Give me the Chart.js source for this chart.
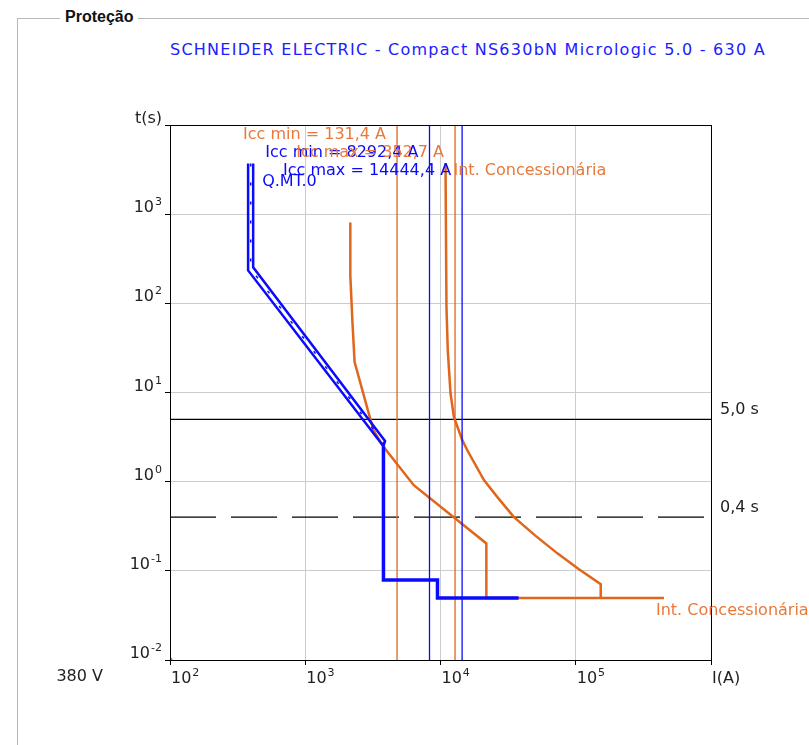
<!DOCTYPE html>
<html>
<head>
<meta charset="utf-8">
<script src="https://cdn.jsdelivr.net/npm/chart.js@4.4.0/dist/chart.umd.min.js"></script>
<style>
  body { margin: 0; background: #fff; }
  #wrap { position: relative; width: 809px; height: 745px; overflow: hidden; }
  .box-left { position: absolute; left: 17px; top: 18px; height: 740px; border-left: 1px solid #b8b8b8; }
  .box-top { position: absolute; left: 17px; top: 18px; width: 800px; border-top: 1px solid #b8b8b8; }
  .legend { position: absolute; left: 60px; top: 8px; padding: 0 5px; background: #fff;
            font: bold 16px "Liberation Sans", Arial, sans-serif; color: #111; }
  .device { position: absolute; left: 170px; top: 40px; color: #2020ff; letter-spacing: 1.25px;
            font: 16px "DejaVu Sans", sans-serif; white-space: nowrap; }
  #chart { position: absolute; left: 0; top: 0; }
</style>
</head>
<body>
<div id="wrap">
  <div class="box-left"></div>
  <div class="box-top"></div>
  <div class="legend">Proteção</div>
  <div class="device">SCHNEIDER ELECTRIC - Compact NS630bN Micrologic 5.0 - 630 A</div>
  <canvas id="chart" width="809" height="745"></canvas>
</div>
<script>
// Eixos (corrente em A, tempo em s)
const xTicks = [100, 1000, 10000, 100000, 1000000];
const xTickLabels = ['10^2', '10^3', '10^4', '10^5', 'I(A)'];
const yTicks = [0.01, 0.1, 1, 10, 100, 1000, 10000];
const yTickLabels = ['10^-2', '10^-1', '10^0', '10^1', '10^2', '10^3', 't(s)'];

// Q.MT.0 - faixa da curva (linha inferior / superior / meio)
const qmtLowI = [378, 378, 3786];
const qmtLowT = [3690, 234, 2.5];
const qmtHighI = [412, 412, 3890, 3786];
const qmtHighT = [3690, 254, 2.85, 2.5];
const qmtMidI = [395, 395, 3840];
const qmtMidT = [3690, 244, 2.67];
// Q.MT.0 - degraus (curto / instantâneo)
const qmtStepI = [3786, 3786, 9500, 9500, 37800];
const qmtStepT = [2.5, 0.0788, 0.0788, 0.0496, 0.0496];

// Int. Concessionária - curva 1
const concAI = [2154, 2154, 2230, 2317, 3192, 3802, 6342, 21830, 21830, 448700];
const concAT = [805, 205, 64, 22, 3.77, 2.45, 0.914, 0.203, 0.0496, 0.0496];
// Int. Concessionária - curva 2
const concBI = [10890, 11070, 11320, 11860, 12560, 14490, 15780, 20950, 26800, 34920, 50000, 73150, 105000, 153000, 153000];
const concBT = [3690, 90, 29.7, 9.8, 5.32, 2.92, 2.25, 1.04, 0.65, 0.40, 0.25, 0.157, 0.105, 0.071, 0.0496];

// Correntes de curto-circuito
const iccBlue = [8292.4, 14444.4];
const iccOrange = [4772, 12810];

// Tempos de referência
const tSolid = 5.0;
const tDashed = 0.4;

const BLUE = '#0a0aff';
const ORANGE = '#e0661c';
const ORANGE_TXT = '#e8793a';
const FONT = "'DejaVu Sans', sans-serif";

const pts = (xs, ys) => xs.map((v, i) => ({ x: v, y: ys[i] }));
const vLine = v => [{ x: v, y: yTicks[0] }, { x: v, y: yTicks[yTicks.length - 1] }];
const hLine = t => [{ x: xTicks[0], y: t }, { x: xTicks[xTicks.length - 1], y: t }];

function lineSet(data, color, width, dash) {
    return {
        data: data,
        showLine: true,
        borderColor: color,
        backgroundColor: color,
        borderWidth: width,
        borderDash: dash || [],
        pointRadius: 0,
        fill: false,
        tension: 0
    };
}

const datasets = [
    lineSet(pts(qmtStepI, qmtStepT), BLUE, 3.5),
    lineSet(pts(qmtLowI, qmtLowT), BLUE, 2.5),
    lineSet(pts(qmtHighI, qmtHighT), BLUE, 2.5),
    lineSet(pts(qmtMidI, qmtMidT), BLUE, 1.5, [3, 16]),
    lineSet(vLine(iccBlue[0]), BLUE, 1.3),
    lineSet(vLine(iccBlue[1]), BLUE, 1.3),
    lineSet(pts(concAI, concAT), ORANGE, 2.5),
    lineSet(pts(concBI, concBT), ORANGE, 2.5),
    lineSet(vLine(iccOrange[0]), ORANGE, 1.3),
    lineSet(vLine(iccOrange[1]), ORANGE, 1.3),
    lineSet(hLine(tSolid), '#000', 1.2),
    lineSet(hLine(tDashed), '#000', 1.2, [46, 15]),
    { data: [{ x: xTicks[0], y: yTicks[0] }], pointRadius: 2.5, pointBackgroundColor: ORANGE, pointBorderWidth: 0 }
];

// escreve "10^n" com expoente elevado
function drawPower(ctx, label, x, y, align) {
    const parts = label.split('^');
    ctx.font = '16px ' + FONT;
    const wBase = ctx.measureText(parts[0]).width;
    let wExp = 0;
    if (parts.length > 1) {
        ctx.font = '11px ' + FONT;
        wExp = ctx.measureText(parts[1]).width + 1;
    }
    const start = align === 'right' ? x - wBase - wExp : x;
    ctx.textAlign = 'left';
    ctx.textBaseline = 'alphabetic';
    ctx.font = '16px ' + FONT;
    ctx.fillText(parts[0], start, y);
    if (parts.length > 1) {
        ctx.font = '11px ' + FONT;
        ctx.fillText(parts[1], start + wBase + 1, y - 7);
    }
}

function text(ctx, str, x, y, color, align) {
    ctx.font = '16px ' + FONT;
    ctx.fillStyle = color;
    ctx.textAlign = align;
    ctx.textBaseline = 'middle';
    ctx.fillText(str, x, y);
}

const annotationPlugin = {
    id: 'annotations',
    afterDraw(chart) {
        const { ctx, chartArea: a } = chart;
        const sx = chart.scales.x;
        const sy = chart.scales.y;
        ctx.save();
        // moldura
        ctx.strokeStyle = '#000';
        ctx.lineWidth = 1;
        ctx.strokeRect(a.left + 0.5, a.top + 0.5, a.right - a.left, a.bottom - a.top);

        // rótulos dos eixos
        ctx.fillStyle = '#222';
        yTicks.forEach((v, i) => {
            drawPower(ctx, yTickLabels[i], a.left - 8, sy.getPixelForValue(v) - 2, 'right');
        });
        xTicks.forEach((v, i) => {
            drawPower(ctx, xTickLabels[i], sx.getPixelForValue(v) + 1, a.bottom + 23, 'left');
        });
        text(ctx, '380 V', 103, a.bottom + 17, '#222', 'right');

        // tempos
        text(ctx, '5,0 s', a.right + 9, sy.getPixelForValue(tSolid) - 9, '#222', 'left');
        text(ctx, '0,4 s', a.right + 9, sy.getPixelForValue(tDashed) - 9, '#222', 'left');

        // correntes de curto
        text(ctx, 'Icc min = 131,4 A', sx.getPixelForValue(iccOrange[0]) - 11, a.top + 10, ORANGE_TXT, 'right');
        text(ctx, 'Icc min = 8292,4 A', sx.getPixelForValue(iccBlue[0]) - 11, a.top + 28, BLUE, 'right');
        text(ctx, 'Icc max = 352,7 A', sx.getPixelForValue(iccOrange[1]) - 11, a.top + 28, ORANGE_TXT, 'right');
        text(ctx, 'Icc max = 14444,4 A', sx.getPixelForValue(iccBlue[1]) - 11, a.top + 46, BLUE, 'right');

        // nomes das curvas
        text(ctx, 'Int. Concessionária', sx.getPixelForValue(concBI[0]) + 8, a.top + 46, ORANGE_TXT, 'left');
        text(ctx, 'Q.MT.0', sx.getPixelForValue(qmtHighI[0]) + 9, a.top + 57, BLUE, 'left');
        text(ctx, 'Int. Concessionária', sx.getPixelForValue(concAI[concAI.length - 1]) - 8,
             sy.getPixelForValue(concAT[concAT.length - 1]) + 13, ORANGE_TXT, 'left');
        ctx.restore();
    }
};

const ctx = document.getElementById('chart').getContext('2d');
new Chart(ctx, {
    type: 'scatter',
    data: { datasets: datasets },
    options: {
        responsive: false,
        animation: false,
        layout: { padding: { left: 0, top: 125, right: 98, bottom: 0 } },
        plugins: {
            legend: { display: false },
            tooltip: { enabled: false }
        },
        scales: {
            x: {
                type: 'logarithmic',
                position: 'bottom',
                min: xTicks[0],
                max: xTicks[xTicks.length - 1],
                afterBuildTicks: s => { s.ticks = xTicks.map(v => ({ value: v })); },
                afterFit: s => { s.height = 85; },
                ticks: { display: false },
                grid: { color: '#cccccc', tickColor: '#000', tickLength: 5 },
                border: { color: '#000' }
            },
            y: {
                type: 'logarithmic',
                position: 'left',
                min: yTicks[0],
                max: yTicks[yTicks.length - 1],
                afterBuildTicks: s => { s.ticks = yTicks.map(v => ({ value: v })); },
                afterFit: s => { s.width = 170; },
                ticks: { display: false },
                grid: { color: '#cccccc', tickColor: '#000', tickLength: 5 },
                border: { color: '#000' }
            }
        }
    },
    plugins: [annotationPlugin]
});
</script>
</body>
</html>
